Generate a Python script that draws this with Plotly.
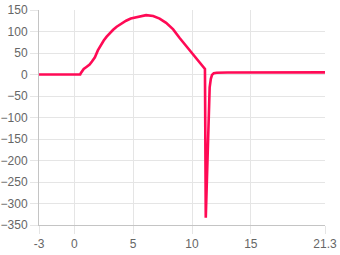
import plotly.graph_objects as go

x_vals = [-3, -2, -1, 0, 0.5, 0.55, 0.7, 0.8, 1.0, 1.3, 1.5, 1.75, 2.0, 2.25, 2.5, 2.75,
          3.0, 3.3, 3.6, 4.0, 4.4, 4.8, 5.2, 5.6, 6.1, 6.7, 7.25, 7.8, 8.4, 8.95, 9.5,
          10.1, 10.65, 11.1, 11.17, 11.3, 11.4, 11.45, 11.5, 11.6, 11.7, 11.85, 12.1,
          13, 15, 18, 21.3]
y_vals = [0, 0, 0, 0, 0, 3, 10, 13, 17, 23, 30, 40, 56, 68, 79, 88,
          96, 104, 111, 119, 125, 130, 133, 136, 138, 136, 130, 120, 105, 85, 66,
          47, 27, 13, -333, -200, -90, -55, -30, -10, -1, 3, 4,
          4.5, 4.5, 5, 5]

x_ticks = [-3, 0, 5, 10, 15, 21.3]
x_tick_text = ["-3", "0", "5", "10", "15", "21.3"]
y_ticks = [150, 100, 50, 0, -50, -100, -150, -200, -250, -300, -350]

grid = "#e5e5e5"
axis_col = "#c4c4c4"
font = dict(family="Liberation Sans, Arial, sans-serif", size=12, color="#666666")

fig = go.Figure(go.Scatter(
    x=x_vals, y=y_vals, mode="lines",
    line=dict(color="#ff0a55", width=2.6),
    hoverinfo="skip",
))

fig.update_layout(
    width=340, height=255,
    margin=dict(l=39, r=15, t=10, b=30),
    paper_bgcolor="white", plot_bgcolor="white",
    showlegend=False,
    font=font,
)
fig.update_xaxes(
    range=[-3, 21.3], tickvals=x_ticks, ticktext=x_tick_text,
    showgrid=True, gridcolor=grid, gridwidth=1,
    ticks="outside", ticklen=8, tickcolor=grid,
    showline=True, linecolor=axis_col, linewidth=1,
    zeroline=False, tickfont=font, automargin=False,
)
fig.update_yaxes(
    range=[-350, 150], tickvals=y_ticks,
    showgrid=True, gridcolor=grid, gridwidth=1,
    ticks="outside", ticklen=8, tickcolor=grid,
    showline=True, linecolor=axis_col, linewidth=1,
    zeroline=False, tickfont=font, automargin=False,
)

fig.write_html("out.html")
